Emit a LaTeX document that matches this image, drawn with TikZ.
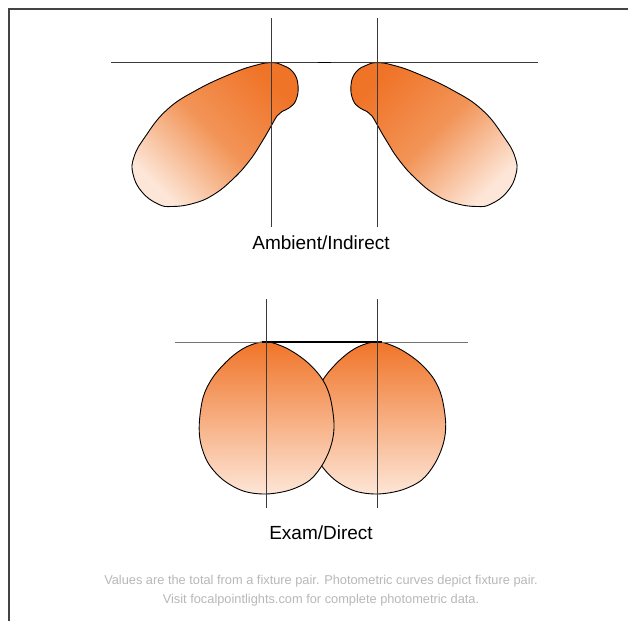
\documentclass[tikz,border=0pt]{standalone}
\usepackage{fontspec}
\setmainfont{Liberation Sans}
\definecolor{orangeD}{HTML}{F07428}
\definecolor{orangeM}{HTML}{F29458}
\definecolor{peach}{HTML}{FDE6D7}
\definecolor{axisgray}{HTML}{3A3A3A}
\definecolor{framegray}{HTML}{444444}
\definecolor{footgray}{HTML}{B8B8B8}
\tikzset{
  lobe/.style={draw=black, line width=0.9pt, line join=round},
  axisline/.style={draw=axisgray, line width=0.9pt},
  framel/.style={draw=framegray, line width=1.6pt},
  label/.style={font=\fontsize{19}{22}\selectfont, text=black, inner sep=0pt},
  foot/.style={font=\fontsize{12.8}{19}\selectfont, text=footgray, inner sep=0pt, align=center}
}
\begin{document}
\begin{tikzpicture}[x=1pt,y=-1pt]
\useasboundingbox (0,0) rectangle (628,621);
\fill[white] (0,0) rectangle (628,621);
% frame (top and left)
\draw[framel] (9,621) -- (9,9) -- (628,9);

% ---------- top lobes ----------
\path[lobe, top color=orangeD, bottom color=peach, middle color=orangeM, shading angle=-45]
  plot[smooth cycle, tension=0.75] coordinates {
  (271.7,62.7) (282,65) (293,72) (298,85) (296,100) (289,108) (282,111.5) (277,116)
  (271.7,125) (263,140) (250,160) (233,179) (213,195) (193,203.5) (172,206.5)
  (158,204) (142,192) (133,174) (134,157) (145,137) (166.7,110) (196.7,90)
  (233,73) (256.7,65)};
\path[lobe, top color=orangeD, bottom color=peach, middle color=orangeM, shading angle=45]
  plot[smooth cycle, tension=0.75] coordinates {
  (377.3,62.7) (367,65) (356,72) (351,85) (353,100) (360,108) (367,111.5) (372,116)
  (377.3,125) (386,140) (399,160) (416,179) (436,195) (456,203.5) (477,206.5)
  (491,204) (507,192) (516,174) (515,157) (504,137) (482.3,110) (452.3,90)
  (416,73) (392.3,65)};

\draw[axisline] (111,62.5) -- (538,62.5);
\draw[axisline] (271.5,18) -- (271.5,227);
\draw[axisline] (377.5,18) -- (377.5,227);
\draw[draw=black, line width=1.6pt] (318,62.5) -- (331,62.5);

\node[label] (amb) at (321,243) {Ambient/Indirect};

% ---------- bottom lobes ----------
\path[lobe, top color=orangeD, bottom color=peach]
  plot[smooth cycle, tension=0.55] coordinates {
  (377.7,341.7) (398.4,348.3) (418.4,361.7) (433.4,378.3) (441.7,396.7) (445.7,423.3)
  (443.4,443.3) (435,463.3) (421.7,480) (401.7,490) (377.7,494) (355,491)
  (335,480) (320,463.3) (312.4,443.3) (311,423.3) (315,396.7) (325,376.7)
  (341.7,358.3) (358.4,346.7)};
\path[lobe, top color=orangeD, bottom color=peach]
  plot[smooth cycle, tension=0.55] coordinates {
  (266,341.7) (286.7,348.3) (306.7,361.7) (321.7,378.3) (330,396.7) (334,423.3)
  (331.7,443.3) (323.3,463.3) (310,480) (290,490) (266,494) (243.3,491)
  (223.3,480) (208.3,463.3) (200.7,443.3) (199.3,423.3) (203.3,396.7) (213.3,376.7)
  (230,358.3) (246.7,346.7)};

\draw[axisline, draw=gray!90!black] (175,342) -- (468,342);
\draw[draw=black, line width=1.3pt] (262,342) -- (382,342);
\draw[axisline] (266,299) -- (266,508);
\draw[axisline] (377.7,299) -- (377.7,508);

\node[label] (exam) at (321,533) {Exam/Direct};

% ---------- footer ----------
\node[foot] (foot) at (321,590.5) {Values are the total from a fixture pair. Photometric curves depict fixture pair.\\Visit focalpointlights.com for complete photometric data.};
\end{tikzpicture}
\end{document}
